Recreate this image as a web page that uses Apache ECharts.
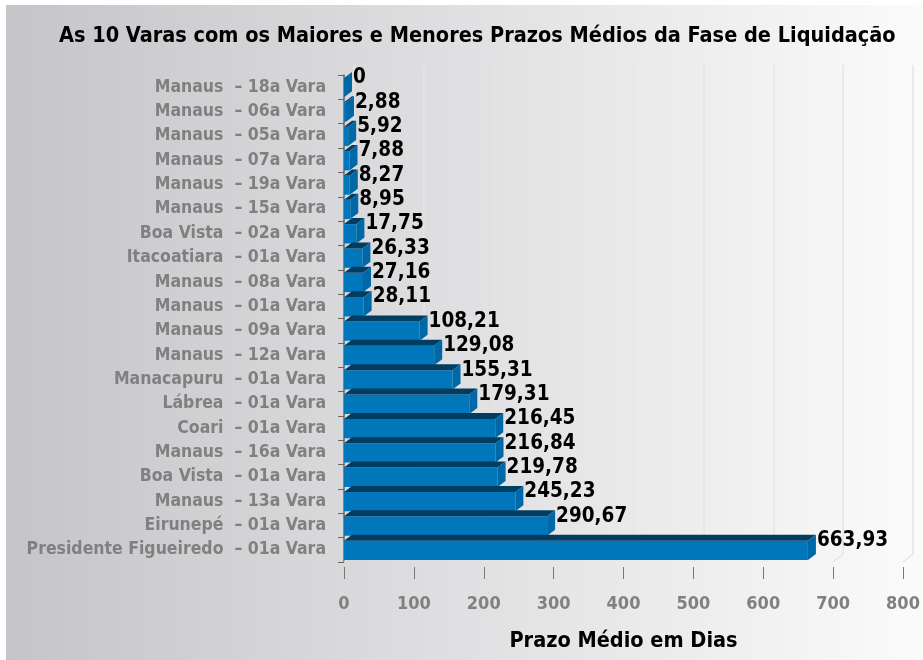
<!DOCTYPE html>
<html>
<head>
<meta charset="utf-8">
<script src="https://cdn.jsdelivr.net/npm/echarts@6/dist/echarts.min.js"></script>
<style>
  html, body { margin: 0; padding: 0; background: #fff; }
  #main { width: 923px; height: 660px; }
</style>
</head>
<body>
<div id="main"></div>
<script>
// categorias de cima para baixo
var varas = [
  "Manaus  – 18a Vara",
  "Manaus  – 06a Vara",
  "Manaus  – 05a Vara",
  "Manaus  – 07a Vara",
  "Manaus  – 19a Vara",
  "Manaus  – 15a Vara",
  "Boa Vista  – 02a Vara",
  "Itacoatiara  – 01a Vara",
  "Manaus  – 08a Vara",
  "Manaus  – 01a Vara",
  "Manaus  – 09a Vara",
  "Manaus  – 12a Vara",
  "Manacapuru  – 01a Vara",
  "Lábrea  – 01a Vara",
  "Coari  – 01a Vara",
  "Manaus  – 16a Vara",
  "Boa Vista  – 01a Vara",
  "Manaus  – 13a Vara",
  "Eirunepé  – 01a Vara",
  "Presidente Figueiredo  – 01a Vara"
];
var prazos = [0, 2.88, 5.92, 7.88, 8.27, 8.95, 17.75, 26.33, 27.16, 28.11,
  108.21, 129.08, 155.31, 179.31, 216.45, 216.84, 219.78, 245.23, 290.67, 663.93];
var eixoX = [0, 100, 200, 300, 400, 500, 600, 700, 800];

var FONTE = "'DejaVu Sans Condensed', 'DejaVu Sans', sans-serif";
var DX = 8, DY = 6; // profundidade do efeito 3D

function formata(v) {
  return v === 0 ? "0" : v.toFixed(2).replace(".", ",");
}

var chartDom = document.getElementById("main");
var myChart = echarts.init(chartDom);
var option;

function barra3d(params, api) {
  var idx = api.value(1);
  var ini = api.coord([0, idx]);
  var fim = api.coord([api.value(0), idx]);
  var banda = api.size([0, 1])[1];
  var topo = ini[1] - banda / 2 + 3;
  var base = ini[1] + banda / 2 - 2;
  var x0 = ini[0], x1 = fim[0];
  return {
    type: "group",
    children: [
      {
        type: "rect",
        shape: { x: x0, y: topo, width: x1 - x0, height: base - topo },
        style: { fill: "#0077bb" }
      },
      {
        type: "polygon",
        shape: { points: [[x0, topo], [x1, topo], [x1 + DX, topo - DY], [x0 + DX, topo - DY]] },
        style: { fill: "#003d60" }
      },
      {
        type: "polygon",
        shape: { points: [[x1, topo], [x1 + DX, topo - DY], [x1 + DX, base - DY], [x1, base]] },
        style: { fill: "#0068a6" }
      },
      {
        type: "text",
        style: {
          text: formata(api.value(0)),
          x: x1 + DX + 1,
          y: topo,
          verticalAlign: "middle",
          fill: "#000",
          font: "bold 20.5px " + FONTE
        }
      }
    ]
  };
}

function parede(params, api) {
  // linha do piso: liga a linha de fundo à frente
  var v = api.value(0);
  var cima = api.coord([v, 0]);
  var baixo = api.coord([v, varas.length - 1]);
  var banda = api.size([0, 1])[1];
  var yb = baixo[1] + banda / 2;
  return {
    type: "line",
    shape: { x1: cima[0] + 10, y1: yb - 8, x2: cima[0], y2: yb },
    style: { stroke: "#e4e4e4", lineWidth: 1.5 }
  };
}

option = {
  animation: false,
  graphic: [
    {
      type: "rect",
      left: 6, top: 5, z: -10,
      shape: { width: 917, height: 655 },
      style: {
        fill: new echarts.graphic.LinearGradient(0, 0, 1, 0, [
          { offset: 0, color: "#c5c4c8" },
          { offset: 1, color: "#fbfbfb" }
        ])
      }
    }
  ],
  title: {
    text: "As 10 Varas com os Maiores e Menores Prazos Médios da Fase de Liquidação",
    left: 54,
    top: 20,
    textStyle: { fontFamily: FONTE, fontSize: 21.5, fontWeight: "bold", color: "#000" }
  },
  grid: [
    { left: 344, right: 20, top: 75, bottom: 98, containLabel: false },
    { left: 354, right: 10, top: 65, bottom: 106, containLabel: false }
  ],
  xAxis: [
    {
      type: "value",
      gridIndex: 0,
      min: 0,
      max: 800,
      interval: 100,
      offset: 5,
      axisLine: { show: false },
      axisTick: { show: true, length: 12, lineStyle: { color: "#777" } },
      axisLabel: {
        margin: 28,
        color: "#808080",
        fontFamily: FONTE,
        fontSize: 18,
        fontWeight: "bold",
        formatter: function (v) { return eixoX.indexOf(v) >= 0 ? String(v) : ""; }
      },
      splitLine: { show: false },
      name: "Prazo Médio em Dias",
      nameLocation: "middle",
      nameGap: 63,
      nameTextStyle: { fontFamily: FONTE, fontSize: 21.5, fontWeight: "bold", color: "#000" }
    },
    {
      type: "value",
      gridIndex: 1,
      min: 0,
      max: 800,
      interval: 100,
      axisLine: { show: false },
      axisTick: { show: false },
      axisLabel: { show: false },
      splitLine: { show: true, lineStyle: { color: "#e4e4e4", width: 1.5 } }
    }
  ],
  yAxis: [
    {
      type: "category",
      gridIndex: 0,
      data: varas,
      inverse: true,
      axisLine: { show: true, lineStyle: { color: "#666", width: 1.5 } },
      axisTick: { show: true, length: 6, lineStyle: { color: "#666" } },
      axisLabel: {
        margin: 18,
        color: "#808080",
        fontFamily: FONTE,
        fontSize: 17.5,
        fontWeight: "bold"
      },
      splitLine: { show: false }
    },
    {
      type: "category",
      gridIndex: 1,
      data: varas,
      show: false
    }
  ],
  series: [
    {
      type: "custom",
      xAxisIndex: 0,
      yAxisIndex: 0,
      renderItem: parede,
      data: eixoX.map(function (v) { return [v, 0]; }),
      z: 1
    },
    {
      type: "custom",
      xAxisIndex: 0,
      yAxisIndex: 0,
      renderItem: barra3d,
      encode: { x: 0, y: 1 },
      data: prazos.map(function (v, i) { return [v, i]; }),
      z: 5
    }
  ]
};

option && myChart.setOption(option);
</script>
</body>
</html>
